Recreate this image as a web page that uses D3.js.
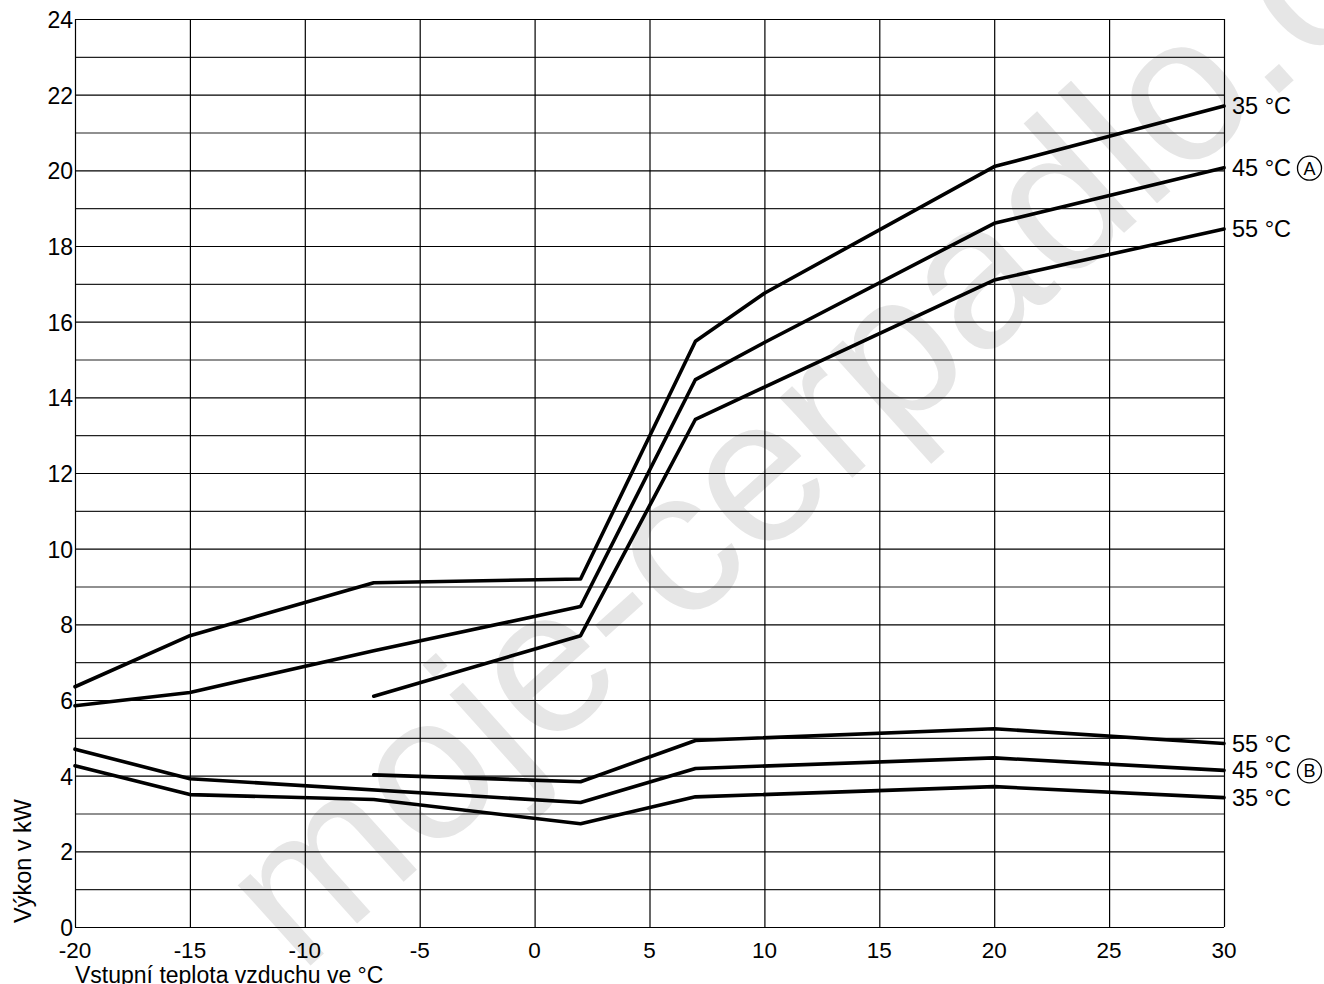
<!DOCTYPE html>
<html><head><meta charset="utf-8">
<script src="https://cdn.jsdelivr.net/npm/d3@7"></script>
<style>body{margin:0;background:#fff}svg{display:block}text{font-family:"Liberation Sans",Arial,sans-serif}</style>
</head><body>
<svg id="c" width="1324" height="984"></svg>
<script>
const xTicks = [-20,-15,-10,-5,0,5,10,15,20,25,30];
const yTicks = [0,2,4,6,8,10,12,14,16,18,20,22,24];
const yMinor = [1,3,5,7,9,11,13,15,17,19,21,23];

const a35x = [-20,-15,-7,2,7,10,20,30];
const a35y = [6.35,7.7,9.1,9.2,15.48,16.75,20.1,21.7];
const a45x = [-20,-15,-7,2,7,10,20,30];
const a45y = [5.85,6.2,7.3,8.47,14.47,15.45,18.6,20.07];
const a55x = [-7,2,7,20,30];
const a55y = [6.1,7.7,13.42,17.1,18.45];
const b55x = [-7,2,7,20,30];
const b55y = [4.02,3.84,4.93,5.24,4.85];
const b45x = [-20,-15,2,7,20,30];
const b45y = [4.7,3.92,3.29,4.19,4.47,4.14];
const b35x = [-20,-15,-7,2,7,20,30];
const b35y = [4.26,3.5,3.37,2.73,3.44,3.71,3.42];

const series = [
  {x:a35x,y:a35y,label:"35 °C",mark:""},
  {x:a45x,y:a45y,label:"45 °C",mark:"A"},
  {x:a55x,y:a55y,label:"55 °C",mark:""},
  {x:b55x,y:b55y,label:"55 °C",mark:""},
  {x:b45x,y:b45y,label:"45 °C",mark:"B"},
  {x:b35x,y:b35y,label:"35 °C",mark:""}
];

const svg = d3.select("#c");
const X = d3.scaleLinear().domain([-20,30]).range([75,1224]);
const Y = d3.scaleLinear().domain([0,24]).range([927,19]);

// watermark (behind everything)
svg.append("text").attr("transform","translate(300,975) rotate(-42)")
  .attr("font-size",205).attr("fill","#e6e6e6")
  .text("moje-cerpadlo.cz");

const g = svg.append("g");
g.selectAll(".mn").data(yMinor).join("line")
  .attr("x1",X(-20)).attr("x2",X(30)).attr("y1",d=>Y(d)+0.5).attr("y2",d=>Y(d)+0.5)
  .attr("stroke","#222").attr("stroke-width",1.2);
g.selectAll(".mj").data(yTicks).join("line")
  .attr("x1",X(-20)).attr("x2",X(30)).attr("y1",d=>Y(d)+0.5).attr("y2",d=>Y(d)+0.5)
  .attr("stroke","#000").attr("stroke-width",1.2);
g.selectAll(".vx").data(xTicks).join("line")
  .attr("y1",Y(0)).attr("y2",Y(24)).attr("x1",d=>X(d)+0.5).attr("x2",d=>X(d)+0.5)
  .attr("stroke","#000").attr("stroke-width",1.2);

// axis labels
svg.append("g").selectAll("text").data(yTicks).join("text")
  .attr("x",73).attr("y",d=>Y(d)+9).attr("text-anchor","end").attr("font-size",23).text(d=>d);
svg.append("g").selectAll("text").data(xTicks).join("text")
  .attr("x",d=>X(d)).attr("y",958).attr("text-anchor","middle").attr("font-size",22.5).text(d=>d);
svg.append("text").attr("x",75).attr("y",983).attr("font-size",23).text("Vstupní teplota vzduchu ve °C");
svg.append("text").attr("transform","translate(31,923) rotate(-90)").attr("font-size",23.5).text("Výkon v kW");

const line = d3.line().x(d=>X(d[0])).y(d=>Y(d[1]));
series.forEach(s=>{
  const pts = s.x.map((v,i)=>[v,s.y[i]]);
  svg.append("path").attr("d",line(pts)).attr("fill","none").attr("stroke","#000")
    .attr("stroke-width",3.6).attr("stroke-linejoin","round").attr("stroke-linecap","round");
  const last = pts[pts.length-1];
  svg.append("text").attr("x",1232).attr("y",Y(last[1])+8).attr("font-size",23.5).text(s.label);
  if(s.mark){
    const cx = 1309.5, cy = Y(last[1])+0.5;
    svg.append("circle").attr("cx",cx).attr("cy",cy).attr("r",12).attr("fill","none").attr("stroke","#000").attr("stroke-width",1.3);
    svg.append("text").attr("x",cx).attr("y",cy+6.5).attr("text-anchor","middle").attr("font-size",18).text(s.mark);
  }
});
</script>
</body></html>
